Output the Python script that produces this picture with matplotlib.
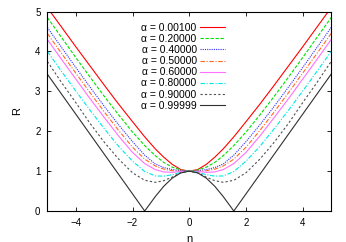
import numpy as np
import matplotlib
matplotlib.use('Agg')
import matplotlib.pyplot as plt

plt.rcParams['font.family'] = ['Liberation Sans', 'DejaVu Sans']

# eta >= 0 half, the curves are symmetric in eta
eta_half = [0, 0.3, 0.6, 0.9, 1.2, 1.57, 2.0, 2.5, 3.0, 3.5, 4.0, 4.5, 5.0]

alphas = ['0.00100', '0.20000', '0.40000', '0.50000',
          '0.60000', '0.80000', '0.90000', '0.99999']

r_001 = [1.00, 1.04, 1.17, 1.35, 1.56, 1.86, 2.24, 2.69, 3.16, 3.64, 4.12, 4.61, 5.10]
r_200 = [1.00, 1.03, 1.10, 1.22, 1.39, 1.64, 1.98, 2.42, 2.88, 3.36, 3.85, 4.35, 4.85]
r_400 = [1.00, 1.01, 1.04, 1.09, 1.18, 1.40, 1.74, 2.17, 2.63, 3.11, 3.60, 4.10, 4.60]
r_500 = [1.00, 1.00, 1.01, 1.05, 1.13, 1.30, 1.60, 2.03, 2.49, 2.97, 3.46, 3.95, 4.45]
r_600 = [1.00, 0.99, 0.97, 0.98, 1.04, 1.19, 1.47, 1.89, 2.35, 2.82, 3.31, 3.80, 4.30]
r_800 = [1.00, 0.97, 0.91, 0.875, 0.88, 0.99, 1.25, 1.63, 2.07, 2.53, 3.01, 3.50, 4.00]
r_900 = [1.00, 0.96, 0.85, 0.76, 0.72, 0.77, 0.96, 1.31, 1.73, 2.20, 2.72, 3.22, 3.75]
r_999 = [1.00, 0.955, 0.825, 0.62, 0.36, 0.00, 0.43, 0.93, 1.43, 1.93, 2.43, 2.93, 3.43]

curves = [r_001, r_200, r_400, r_500, r_600, r_800, r_900, r_999]
colors = ['#ff0000', '#00e000', '#3030ff', '#ff6a20',
          '#ff70ff', '#00e8e8', '#505050', '#303030']
styles = ['-', (0, (3, 1.5)), (0, (1, 1)), (0, (4, 1.5, 1, 1.5)),
          '-', (0, (4, 1.5, 1, 1.5)), (0, (2, 2)), '-']

eta_half = np.array(eta_half)
eta = np.concatenate([-eta_half[::-1], eta_half[1:]])

fig = plt.figure(figsize=(3.46, 2.42), dpi=100)
ax = fig.add_axes([0.137, 0.128, 0.820, 0.824])

for a, r, c, ls in zip(alphas, curves, colors, styles):
    r = np.array(r)
    full = np.concatenate([r[::-1], r[1:]])
    ax.plot(eta, full, color=c, linestyle=ls, linewidth=0.8,
            label='\u03b1 = ' + a)

ax.set_xlim(-5, 5)
ax.set_ylim(0, 5)
ax.set_xticks([-4, -2, 0, 2, 4])
ax.set_yticks([0, 1, 2, 3, 4, 5])
ax.tick_params(direction='in', top=True, right=True, labelsize=7,
               length=3, width=0.6, pad=5)
for s in ax.spines.values():
    s.set_linewidth(0.8)

ax.set_xlabel('\u03b7', fontsize=8, labelpad=4)
ax.set_ylabel('R', fontsize=8, labelpad=9)

ax.legend(loc='upper right', bbox_to_anchor=(0.642, 0.965), frameon=False,
          markerfirst=False, fontsize=7.5, handlelength=2.4,
          handletextpad=0.35, labelspacing=0.11, borderaxespad=0)

plt.savefig('out.png', dpi=100)
